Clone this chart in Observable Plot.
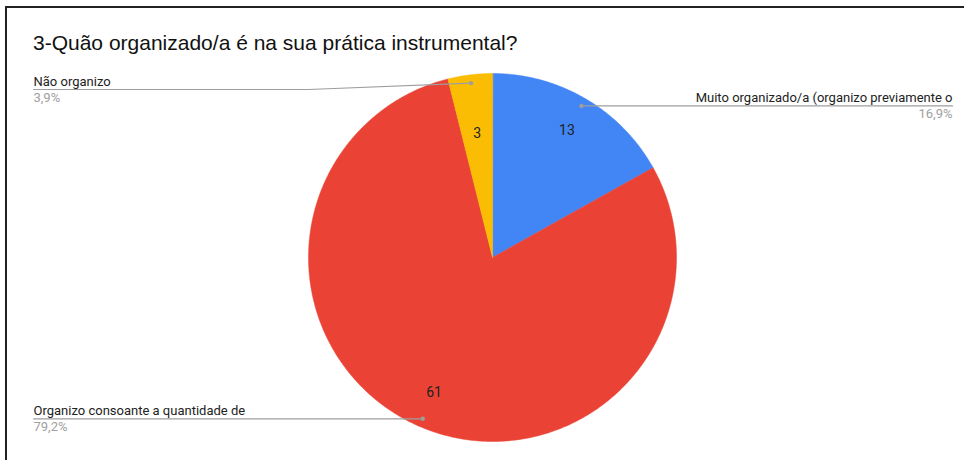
<!DOCTYPE html>
<html><head><meta charset="utf-8">
<script src="https://cdn.jsdelivr.net/npm/d3@7"></script>
<script src="https://cdn.jsdelivr.net/npm/@observablehq/plot@0.6"></script>
<style>
html,body{margin:0;padding:0;background:#fff;}
#wrap{position:relative;width:964px;height:460px;overflow:hidden;}
#frame{position:absolute;left:5px;top:6px;right:-10px;bottom:-10px;border-left:2.5px solid #222;border-top:2.5px solid #222;}
#title{position:absolute;left:33px;top:31px;font:21px "Liberation Sans",Arial,sans-serif;color:#111;white-space:nowrap;}
#chart{position:absolute;left:0;top:0;}
</style></head>
<body><div id="wrap"><div id="frame"></div><div id="chart"></div><div id="title"></div></div>
<script>
const title = "3-Quão organizado/a é na sua prática instrumental?";
const categories = [
  "Muito organizado/a (organizo previamente o",
  "Organizo consoante a quantidade de",
  "Não organizo"
];
const counts = [13, 61, 3];
const percentLabels = ["16,9%", "79,2%", "3,9%"];
const colors = ["#4285f4", "#ea4335", "#fbbc04"];

document.getElementById("title").textContent = title;

// layout (pixels)
const W = 964, H = 460, CX = 492, CY = 257, R = 184;
const LEFT_X = 33, RIGHT_X = 952, MIN_LINE_Y = 89;

const arcs = d3.pie().sort(null).value(d => d)(counts);

const slicePts = [];
arcs.forEach((a, i) => {
  slicePts.push({cat: categories[i], x: 0, y: 0});
  const n = Math.max(4, Math.ceil((a.endAngle - a.startAngle) / 0.01));
  for (let k = 0; k <= n; k++) {
    const t = a.startAngle + (a.endAngle - a.startAngle) * k / n;
    slicePts.push({cat: categories[i], x: Math.sin(t), y: Math.cos(t)});
  }
});

const dots = [], leaders = [], names = [], pcts = [], values = [];
arcs.forEach((a, i) => {
  const mid = (a.startAngle + a.endAngle) / 2;
  const dx = 0.955 * Math.sin(mid), dy = 0.955 * Math.cos(mid);
  dots.push({x: dx, y: dy});
  const right = Math.sin(mid) >= 0;
  let lineY = dy;
  if (CY - lineY * R < MIN_LINE_Y) lineY = (CY - MIN_LINE_Y) / R;
  const endX = right ? (RIGHT_X - CX) / R : (LEFT_X - CX) / R;
  leaders.push({k: i, x: dx, y: dy});
  leaders.push({k: i, x: right ? 1 : -1, y: lineY});
  leaders.push({k: i, x: endX, y: lineY});
  names.push({x: endX, y: lineY, t: categories[i], a: right ? "end" : "start"});
  pcts.push({x: endX, y: lineY, t: percentLabels[i], a: right ? "end" : "start"});
  const span = a.endAngle - a.startAngle;
  const lr = span < 0.35 ? 0.68 : 0.8;
  values.push({x: lr * Math.sin(mid), y: lr * Math.cos(mid), t: String(counts[i])});
});

const chart = Plot.plot({
  width: W, height: H,
  margin: 0,
  style: {background: "transparent", fontFamily: "Roboto, 'Liberation Sans', Arial, sans-serif", fontSize: "13px"},
  x: {domain: [-CX / R, (W - CX) / R], range: [0, W], axis: null},
  y: {domain: [-(H - CY) / R, CY / R], range: [H, 0], axis: null},
  color: {domain: categories, range: colors},
  marks: [
    Plot.line(slicePts, {x: "x", y: "y", z: "cat", fill: "cat", stroke: "cat", strokeWidth: 0.5, curve: "linear-closed"}),
    Plot.line(leaders, {x: "x", y: "y", z: "k", stroke: "#9e9e9e", strokeWidth: 1.2}),
    Plot.dot(dots, {x: "x", y: "y", r: 2.2, fill: "#9e9e9e", stroke: null}),
    Plot.text(names.filter(d => d.a === "start"), {x: "x", y: "y", text: "t", textAnchor: "start", lineAnchor: "bottom", dy: -4, fill: "#222", fontSize: 13}),
    Plot.text(names.filter(d => d.a === "end"), {x: "x", y: "y", text: "t", textAnchor: "end", lineAnchor: "bottom", dy: -4, fill: "#222", fontSize: 13}),
    Plot.text(pcts.filter(d => d.a === "start"), {x: "x", y: "y", text: "t", textAnchor: "start", lineAnchor: "top", dy: 3, fill: "#a0a0a0", fontSize: 13}),
    Plot.text(pcts.filter(d => d.a === "end"), {x: "x", y: "y", text: "t", textAnchor: "end", lineAnchor: "top", dy: 3, fill: "#a0a0a0", fontSize: 13}),
    Plot.text(values, {x: "x", y: "y", text: "t", fill: "#222", fontSize: 14})
  ]
});
document.getElementById("chart").appendChild(chart);
</script>
</body></html>
